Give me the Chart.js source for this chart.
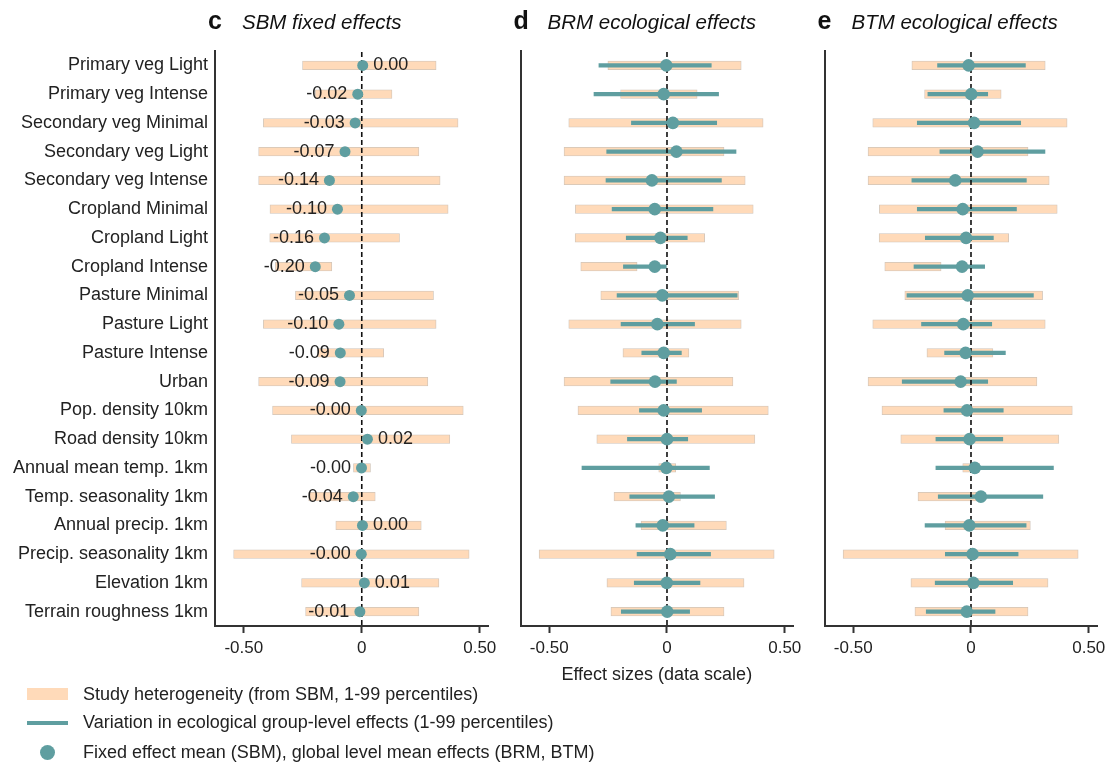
<!DOCTYPE html>
<html>
<head>
<meta charset="utf-8">
<script src="https://cdn.jsdelivr.net/npm/chart.js@4.4.1/dist/chart.umd.min.js"></script>
<style>
  body { margin: 0; background: #fff; }
  #wrap { position: relative; width: 1111px; height: 762px; overflow: hidden; }
  #wrap canvas { position: absolute; left: 0; top: 0; }
  .lg { position: absolute; font: 18px 'Liberation Sans', Arial, sans-serif; color: #222; line-height: 21px; white-space: nowrap; }
  .sw { position: absolute; }
</style>
</head>
<body>
<div id="wrap">
  <canvas id="panelC" width="1111" height="762"></canvas>
  <canvas id="panelD" width="1111" height="762"></canvas>
  <canvas id="panelE" width="1111" height="762"></canvas>

  <div class="sw" style="left:27px;top:688px;width:41px;height:11.5px;background:#ffdab9;"></div>
  <div class="lg" style="left:83px;top:684px;">Study heterogeneity (from SBM, 1-99 percentiles)</div>
  <div class="sw" style="left:27px;top:721px;width:41px;height:4px;background:#5f9ea0;"></div>
  <div class="lg" style="left:83px;top:712px;">Variation in ecological group-level effects (1-99 percentiles)</div>
  <div class="sw" style="left:40px;top:744.5px;width:15px;height:15px;border-radius:50%;background:#5f9ea0;"></div>
  <div class="lg" style="left:83px;top:741.5px;">Fixed effect mean (SBM), global level mean effects (BRM, BTM)</div>
</div>
<script>
// categories, top to bottom
const categories = [
  'Primary veg Light', 'Primary veg Intense', 'Secondary veg Minimal', 'Secondary veg Light',
  'Secondary veg Intense', 'Cropland Minimal', 'Cropland Light', 'Cropland Intense',
  'Pasture Minimal', 'Pasture Light', 'Pasture Intense', 'Urban',
  'Pop. density 10km', 'Road density 10km', 'Annual mean temp. 1km', 'Temp. seasonality 1km',
  'Annual precip. 1km', 'Precip. seasonality 1km', 'Elevation 1km', 'Terrain roughness 1km'
];

// study heterogeneity (from SBM, 1-99 percentiles) - same in every panel
const hetLow  = [-0.251, -0.197, -0.417, -0.437, -0.437, -0.389, -0.390, -0.366, -0.281, -0.417,
                 -0.187, -0.437, -0.378, -0.298, -0.035, -0.225, -0.110, -0.543, -0.255, -0.238];
const hetHigh = [0.315, 0.128, 0.408, 0.242, 0.332, 0.366, 0.160, -0.127, 0.304, 0.315,
                 0.093, 0.280, 0.430, 0.373, 0.037, 0.057, 0.252, 0.455, 0.327, 0.242];

// c: SBM fixed effects
const sbmMean = [0.004, -0.017, -0.028, -0.071, -0.137, -0.103, -0.158, -0.197, -0.052, -0.097,
                 -0.091, -0.092, -0.002, 0.024, -0.001, -0.036, 0.003, -0.002, 0.011, -0.008];

// d: BRM ecological effects
const brmMean = [-0.003, -0.014, 0.025, 0.040, -0.064, -0.052, -0.028, -0.052, -0.020, -0.041,
                 -0.014, -0.051, -0.014, 0.000, -0.003, 0.008, -0.018, 0.014, -0.001, 0.001];
const brmLow  = [-0.289, -0.310, -0.151, -0.256, -0.259, -0.233, -0.173, -0.185, -0.212, -0.195,
                 -0.107, -0.239, -0.117, -0.168, -0.361, -0.158, -0.132, -0.127, -0.139, -0.194];
const brmHigh = [0.188, 0.219, 0.211, 0.293, 0.231, 0.195, 0.086, -0.003, 0.298, 0.117,
                 0.061, 0.040, 0.147, 0.088, 0.180, 0.202, 0.115, 0.185, 0.140, 0.096];

// e: BTM ecological effects
const btmMean = [-0.010, 0.001, 0.013, 0.028, -0.067, -0.035, -0.021, -0.038, -0.014, -0.033,
                 -0.023, -0.044, -0.017, -0.006, 0.016, 0.042, -0.007, 0.007, 0.010, -0.018];
const btmLow  = [-0.142, -0.183, -0.228, -0.132, -0.251, -0.228, -0.194, -0.242, -0.272, -0.210,
                 -0.112, -0.292, -0.115, -0.149, -0.149, -0.139, -0.195, -0.109, -0.152, -0.190];
const btmHigh = [0.231, 0.071, 0.211, 0.314, 0.235, 0.193, 0.095, 0.058, 0.265, 0.088,
                 0.146, 0.071, 0.137, 0.135, 0.350, 0.305, 0.234, 0.200, 0.177, 0.102];

const tickValues = [-0.5, 0, 0.5];
const tickLabels = ['-0.50', '0', '0.50'];
const X_MIN = -0.622, X_MAX = 0.535;

const FONT = "'Liberation Sans', Arial, sans-serif";
const ORANGE = '#ffdab9';
const TEAL = '#5f9ea0';
const INK = '#222';
const AXIS = '#333';

Chart.defaults.font.family = FONT;
Chart.defaults.color = INK;

// titles, zero line and value labels
const panelDecor = {
  id: 'panelDecor',
  afterDatasetDraw(chart, args, opts) {
    if (args.index !== opts.zeroAfter) return;
    const ctx = chart.ctx, area = chart.chartArea;
    const x = chart.scales.x.getPixelForValue(0);
    ctx.save();
    ctx.strokeStyle = '#111';
    ctx.lineWidth = 1.6;
    ctx.setLineDash([5, 3]);
    ctx.beginPath();
    ctx.moveTo(x, area.top + 1);
    ctx.lineTo(x, area.bottom);
    ctx.stroke();
    ctx.restore();
  },
  afterDraw(chart, args, opts) {
    const ctx = chart.ctx, area = chart.chartArea;
    ctx.save();
    ctx.fillStyle = '#111';
    ctx.textBaseline = 'alphabetic';
    ctx.textAlign = 'left';
    ctx.font = 'bold 25px ' + FONT;
    ctx.fillText(opts.letter, area.left - 7, 29);
    ctx.font = 'italic 20.5px ' + FONT;
    ctx.fillText(opts.title, area.left + 27, 29);

    if (opts.valueLabels) {
      const ds = chart.data.datasets.length - 1;
      const meta = chart.getDatasetMeta(ds);
      const vals = chart.data.datasets[ds].data;
      ctx.font = '18px ' + FONT;
      ctx.fillStyle = INK;
      ctx.textBaseline = 'middle';
      meta.data.forEach((pt, i) => {
        const v = vals[i];
        const txt = v.toFixed(2);
        if (v < 0) {
          ctx.textAlign = 'right';
          ctx.fillText(txt, pt.x - 10.5, pt.y);
        } else {
          ctx.textAlign = 'left';
          ctx.fillText(txt, pt.x + 10.5, pt.y);
        }
      });
    }
    ctx.restore();
  }
};

function makePanel(id, cfg) {
  const datasets = [{
    type: 'bar',
    indexAxis: 'y',
    data: hetLow.map((v, i) => [v, hetHigh[i]]),
    backgroundColor: ORANGE,
    borderColor: 'rgba(150,125,100,0.45)',
    borderWidth: 0.8,
    borderSkipped: false,
    barThickness: 8.5,
    grouped: false,
    order: 3
  }];
  if (cfg.low) {
    datasets.push({
      type: 'bar',
      indexAxis: 'y',
      data: cfg.low.map((v, i) => [v, cfg.high[i]]),
      backgroundColor: TEAL,
      borderWidth: 0,
      barThickness: 3.5,
      grouped: false,
      order: 2
    });
  }
  datasets.push({
    type: 'line',
    indexAxis: 'y',
    data: cfg.mean,
    showLine: false,
    pointRadius: cfg.radius,
    pointBackgroundColor: TEAL,
    pointBorderWidth: 0,
    order: 1
  });

  return new Chart(document.getElementById(id), {
    type: 'bar',
    data: { labels: categories, datasets: datasets },
    options: {
      indexAxis: 'y',
      responsive: false,
      animation: false,
      events: [],
      layout: { padding: { left: cfg.padLeft, right: 1111 - cfg.right, top: 51, bottom: 74 } },
      scales: {
        x: {
          type: 'linear',
          min: X_MIN,
          max: X_MAX,
          afterBuildTicks: s => { s.ticks = tickValues.map(v => ({ value: v })); },
          afterFit: s => { s.height = 62; },
          grid: { drawOnChartArea: false, drawTicks: true, tickLength: 7, tickColor: AXIS, tickWidth: 2 },
          border: { display: true, color: AXIS, width: 2 },
          ticks: {
            callback: v => tickLabels[tickValues.indexOf(v)],
            font: { size: 17 }, color: INK, padding: 5, maxRotation: 0, autoSkip: false
          },
          title: {
            display: !!cfg.xTitle, text: 'Effect sizes (data scale)',
            font: { size: 18 }, color: INK, padding: { top: 0, bottom: 2 }
          }
        },
        y: {
          type: 'category',
          afterFit: s => { s.width = cfg.yWidth; },
          grid: { drawOnChartArea: false, drawTicks: false },
          border: { display: true, color: AXIS, width: 2 },
          ticks: { display: cfg.yLabels, font: { size: 18 }, color: INK, padding: 7, autoSkip: false }
        }
      },
      plugins: {
        legend: { display: false },
        tooltip: { enabled: false },
        panelDecor: {
          letter: cfg.letter, title: cfg.title,
          zeroAfter: cfg.low ? 1 : 0,
          valueLabels: !!cfg.valueLabels
        }
      }
    },
    plugins: [panelDecor]
  });
}

makePanel('panelC', {
  letter: 'c', title: 'SBM fixed effects', mean: sbmMean, radius: 5.5,
  yLabels: true, yWidth: 215, padLeft: 0, right: 488, valueLabels: true
});
makePanel('panelD', {
  letter: 'd', title: 'BRM ecological effects', mean: brmMean, low: brmLow, high: brmHigh, radius: 6.3,
  yLabels: false, yWidth: 20, padLeft: 500.5, right: 793, xTitle: true
});
makePanel('panelE', {
  letter: 'e', title: 'BTM ecological effects', mean: btmMean, low: btmLow, high: btmHigh, radius: 6.3,
  yLabels: false, yWidth: 20, padLeft: 804.5, right: 1097
});
</script>
</body>
</html>
